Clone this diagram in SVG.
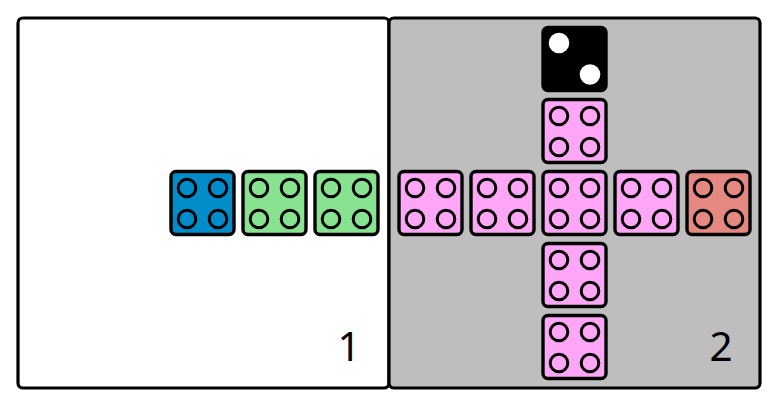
<svg xmlns="http://www.w3.org/2000/svg" width="778" height="406" viewBox="0 0 778 406">
<style>
.panel{stroke:#000;stroke-width:3.2}
.t{stroke:#000;stroke-width:3.4}
.h{fill:none;stroke:#000;stroke-width:3}
.lbl{font-family:"Noto Sans","Open Sans",sans-serif;font-size:40.5px;fill:#000;text-anchor:middle}
</style>
<defs>
<g id="holes">
<circle class="h" cx="16" cy="16.5" r="8.8"/><circle class="h" cx="47" cy="16.5" r="8.8"/>
<circle class="h" cx="16" cy="47.5" r="8.8"/><circle class="h" cx="47" cy="47.5" r="8.8"/>
</g>
<rect id="b" class="t" x="0" y="0" width="63" height="63" rx="5"/>
</defs>
<g id="panel1"><rect class="panel" x="18" y="18" width="371" height="370" rx="5" fill="#fff"/><text class="lbl" x="349" y="361">1</text></g>
<g id="panel2"><rect class="panel" x="389" y="18" width="371" height="370" rx="5" fill="#bebebe"/><text class="lbl" x="721" y="361">2</text></g>
<g id="tile-blue" transform="translate(171,171.5)"><use href="#b" fill="#008cc8"/><use href="#holes"/></g>
<g id="tile-green1" transform="translate(243,171.5)"><use href="#b" fill="#87e38f"/><use href="#holes"/></g>
<g id="tile-green2" transform="translate(315,171.5)"><use href="#b" fill="#87e38f"/><use href="#holes"/></g>
<g id="tile-left2" transform="translate(399,171.5)"><use href="#b" fill="#ffa6f7"/><use href="#holes"/></g>
<g id="tile-left1" transform="translate(471,171.5)"><use href="#b" fill="#ffa6f7"/><use href="#holes"/></g>
<g id="tile-center" transform="translate(543,171.5)"><use href="#b" fill="#ffa6f7"/><use href="#holes"/></g>
<g id="tile-right1" transform="translate(615,171.5)"><use href="#b" fill="#ffa6f7"/><use href="#holes"/></g>
<g id="tile-red" transform="translate(687,171.5)"><use href="#b" fill="#e58882"/><use href="#holes"/></g>
<g id="tile-up1" transform="translate(543,99.5)"><use href="#b" fill="#ffa6f7"/><use href="#holes"/></g>
<g id="tile-down1" transform="translate(543,243.5)"><use href="#b" fill="#ffa6f7"/><use href="#holes"/></g>
<g id="tile-down2" transform="translate(543,315.5)"><use href="#b" fill="#ffa6f7"/><use href="#holes"/></g>
<g id="die" transform="translate(543,27.5)"><use href="#b" fill="#000"/><circle cx="16" cy="15.5" r="10.3" fill="#fff"/><circle cx="47" cy="47" r="10.3" fill="#fff"/></g>
</svg>
